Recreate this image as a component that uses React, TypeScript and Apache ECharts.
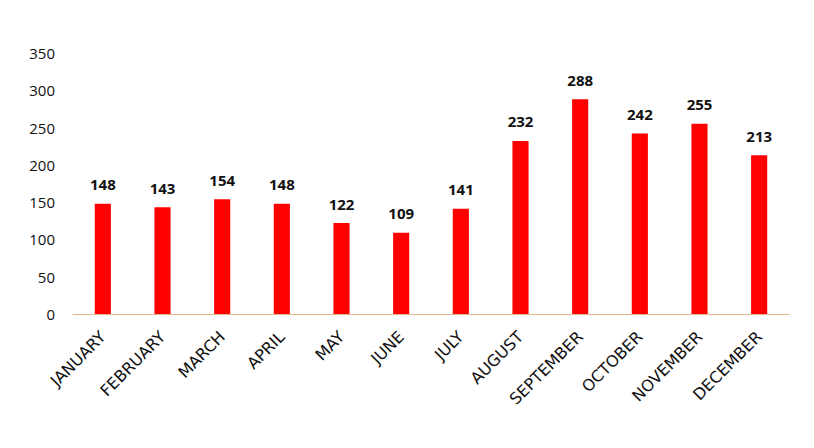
import React, { useEffect, useRef } from "react";
import * as echarts from "echarts";

const months = ["JANUARY", "FEBRUARY", "MARCH", "APRIL", "MAY", "JUNE", "JULY", "AUGUST", "SEPTEMBER", "OCTOBER", "NOVEMBER", "DECEMBER"];
const values = [148, 143, 154, 148, 122, 109, 141, 232, 288, 242, 255, 213];

export default function App() {
  const ref = useRef<HTMLDivElement>(null);
  useEffect(() => {
    const chart = echarts.init(ref.current!, null, { renderer: "svg" });
    chart.setOption({
      animation: false,
      backgroundColor: "#ffffff",
      grid: { left: 65, right: 17, top: 45, bottom: 134, containLabel: false },
      xAxis: {
        type: "category",
        data: months,
        axisLine: { lineStyle: { color: "#E3B48C", width: 1 } },
        axisTick: { show: false },
        axisLabel: {
          rotate: 45,
          interval: 0,
          color: "#111",
          fontFamily: "DejaVu Sans",
          fontSize: 16,
          margin: 20,
        },
      },
      yAxis: {
        type: "value",
        min: 0,
        max: 350,
        interval: 50,
        splitLine: { show: false },
        axisLine: { show: false },
        axisTick: { show: false },
        axisLabel: { color: "#111", fontFamily: "Open Sans", fontSize: 15, margin: 18 },
      },
      series: [
        {
          type: "bar",
          data: values,
          barWidth: "27%",
          itemStyle: { color: "#FF0000" },
          label: {
            show: true,
            position: "top",
            distance: 12,
            color: "#111",
            fontFamily: "Open Sans",
            fontWeight: "bold",
            fontSize: 15,
          },
        },
      ],
    });
    return () => chart.dispose();
  }, []);
  return <div ref={ref} style={{ width: 798, height: 440 }} />;
}
